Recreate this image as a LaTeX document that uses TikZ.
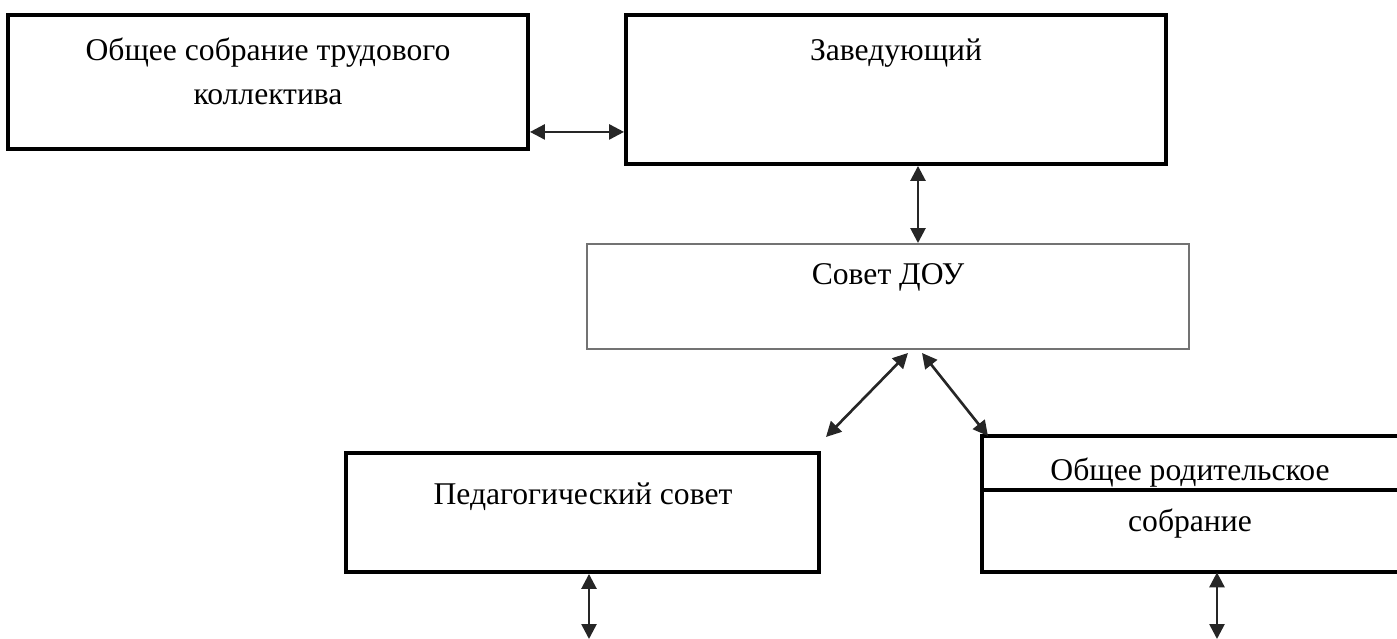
\documentclass[tikz,border=0pt]{standalone}
\usepackage{fontspec}
\setmainfont{Liberation Serif}
\usetikzlibrary{arrows.meta,calc}
\begin{document}
\begin{tikzpicture}[x=0.02cm,y=-0.02cm,
  box/.style={draw=black,line width=2.2pt,inner sep=0pt},
  softbox/.style={draw=black!55,line width=1.1pt,inner sep=0pt},
  txt/.style={font=\fontsize{18}{21}\selectfont,inner sep=0pt,align=center},
  arr/.style={{Triangle[length=0.3cm,width=0.3cm]}-{Triangle[length=0.3cm,width=0.3cm]},line width=1.5pt,draw=black!85,fill=black!85}]
\useasboundingbox (0,0) rectangle (1397,639);
% boxes
\node[box,minimum width=520*0.02cm,minimum height=134*0.02cm] (b1) at (268,82) {};
\node[box,minimum width=540*0.02cm,minimum height=149*0.02cm] (b2) at (896,89.5) {};
\node[softbox,minimum width=602*0.02cm,minimum height=105*0.02cm] (b3) at (888,296.5) {};
\node[box,minimum width=473*0.02cm,minimum height=119*0.02cm] (b4) at (582.5,512.5) {};
\node[inner sep=0pt,minimum width=420*0.02cm,minimum height=136*0.02cm] (b5) at (1192,504) {};
\draw[line width=2.2pt] (b5.north east) -- (b5.north west) -- (b5.south west) -- (b5.south east);
\draw[line width=2.2pt] ([yshift=0.28cm]b5.west) -- ([yshift=0.28cm]b5.east);
% texts
\node[txt] (t1a) at (268,53) {Общее собрание трудового};
\node[txt] (t1b) at (268,97) {коллектива};
\node[txt] (t2) at (896,53) {Заведующий};
\node[txt] (t3) at (888,277) {Совет ДОУ};
\node[txt] (t4) at (583,497) {Педагогический совет};
\node[txt] (t5a) at (1190,473) {Общее родительское};
\node[txt] (t5b) at (1190,524) {собрание};
% connectors
\draw[arr] ([yshift=0.38cm]b1.south east) -- ([yshift=0.38cm]b1.south east -| b2.west);
\coordinate (a2) at ([xshift=0.44cm]b2.south);
\draw[arr] (a2) -- (a2 |- b3.north);
\coordinate (d1) at ([xshift=0.4cm,yshift=-0.06cm]b3.south);
\coordinate (d2) at ([xshift=0.68cm,yshift=-0.06cm]b3.south);
\coordinate (e1) at (826,437);
\coordinate (e2) at (988,436);
\draw[arr] (d1) -- (e1);
\draw[arr] (d2) -- (e2);
\coordinate (f1) at ([xshift=0.13cm]b4.south);
\coordinate (g1) at (f1 |- 0,639);
\draw[arr] (f1) -- (g1);
\coordinate (f2) at ([xshift=0.5cm]b5.south);
\coordinate (g2) at (f2 |- 0,639);
\draw[arr] (f2) -- (g2);
\end{tikzpicture}
\end{document}
